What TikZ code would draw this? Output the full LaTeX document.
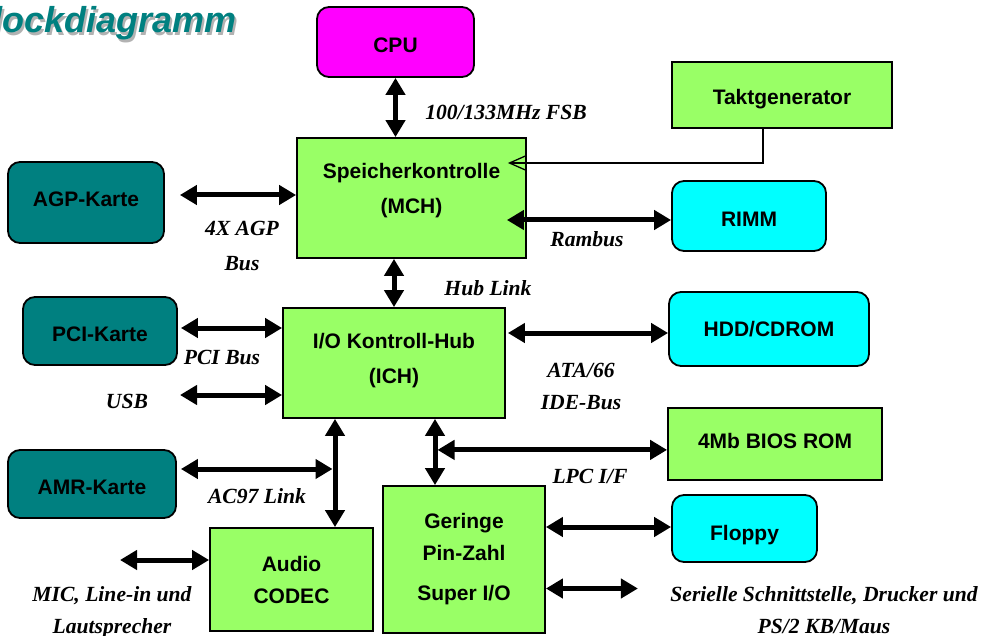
\documentclass[tikz,border=0pt]{standalone}
\usepackage{fontspec}
\setmainfont{Liberation Sans}
\newfontfamily\lblfont{Liberation Serif}
\usetikzlibrary{arrows.meta}
\definecolor{boxgreen}{HTML}{99FF66}
\definecolor{cpumag}{HTML}{FF00FF}
\definecolor{boxcyan}{HTML}{00FFFF}
\definecolor{boxteal}{HTML}{008080}
\begin{document}
\begin{tikzpicture}[x=1pt,y=-1pt,
  box/.style={draw=black, line width=1.8pt, inner sep=0pt, align=center,
    font=\fontsize{21}{32}\selectfont\bfseries},
  gbox/.style={box, fill=boxgreen},
  rbox/.style={box, rounded corners=12pt},
  cbox/.style={rbox, fill=boxcyan},
  tbox/.style={rbox, fill=boxteal},
  mbox/.style={rbox, fill=cpumag},
  tpos/.style={text depth=4pt, text height=#1},
  dbl/.style={line width=5pt, {Triangle[length=17pt,width=19pt]}-{Triangle[length=17pt,width=19pt]}},
  clk/.style={line width=1.3pt, -{Straight Barb[length=17pt,width=15pt,line width=1.3pt]}},
  lbl/.style={anchor=base, inner sep=0pt, font=\lblfont\fontsize{21.6}{21.6}\selectfont\bfseries\itshape},
  ttl/.style={anchor=base west, inner sep=0pt, font=\fontsize{36}{36}\selectfont\bfseries\itshape},
]
\useasboundingbox (0,0) rectangle (984,636);

% title (with its grey shadow)
\node[ttl, text=boxteal] (title) at (-34,33)
  {\rlap{\raisebox{-2.5pt}{\kern2.5pt\color{black!30}Blockdiagramm}}Blockdiagramm};

% boxes
\node[mbox, tpos=26pt, minimum width=157pt, minimum height=70pt] (cpu) at (395.5,42) {CPU};
\node[gbox, tpos=23pt, minimum width=220pt, minimum height=66pt] (takt) at (782,95) {Taktgenerator};
\node[gbox, minimum width=229pt, minimum height=120pt] (mch) at (411.5,198) {Speicherkontrolle\\[3pt](MCH)\\[-13pt]\mbox{}};
\node[tbox, tpos=12pt, minimum width=156pt, minimum height=81pt] (agp) at (86,202.5) {AGP-Karte};
\node[cbox, tpos=25pt, minimum width=154pt, minimum height=70pt] (rimm) at (749,216) {RIMM};
\node[tbox, tpos=25pt, minimum width=154pt, minimum height=68pt] (pci) at (100,331) {PCI-Karte};
\node[gbox, minimum width=222pt, minimum height=110pt] (ich) at (394,363) {I/O Kontroll-Hub\\[3pt](ICH)\\[-22pt]\mbox{}};
\node[cbox, tpos=19pt, minimum width=200pt, minimum height=74pt] (hdd) at (769,329) {HDD/CDROM};
\node[gbox, tpos=13pt, minimum width=214pt, minimum height=72pt] (bios) at (775,444) {4Mb BIOS ROM};
\node[tbox, tpos=25pt, minimum width=168pt, minimum height=68pt] (amr) at (92,484) {AMR-Karte};
\node[gbox, minimum width=163pt, minimum height=103pt] (audio) at (291.5,579.5) {Audio\\CODEC};
\node[gbox, minimum width=162pt, minimum height=147pt] (superio) at (464,559.5) {Geringe\\Pin-Zahl\\[8pt]Super I/O};
\node[cbox, tpos=28pt, minimum width=145pt, minimum height=67pt] (floppy) at (744.5,528.5) {Floppy};

% connectors
\draw[dbl] (cpu.south) -- (cpu.south |- mch.north);

\coordinate (clkA) at ([xshift=-19pt]takt.south);
\coordinate (clkB) at ([shift={(-19,-35)}]mch.east);
\draw[clk] (clkA) |- (clkB);

\coordinate (agpA) at ([shift={(15,-7.5)}]agp.east);
\draw[dbl] (agpA) -- (agpA -| mch.west);

\coordinate (ramA) at ([shift={(-20,22)}]mch.east);
\draw[dbl] (ramA) -- (ramA -| rimm.west);

\coordinate (hubA) at ([xshift=-17.5pt]mch.south);
\draw[dbl] (hubA) -- (hubA |- ich.north);

\coordinate (pciA) at ([shift={(3,-3)}]pci.east);
\draw[dbl] (pciA) -- (pciA -| ich.west);

\coordinate (usbA) at (180,395);
\draw[dbl] (usbA) -- (usbA -| ich.west);

\coordinate (hddA) at ([shift={(2,-30)}]ich.east);
\draw[dbl] (hddA) -- (hddA -| hdd.west);

\coordinate (acA) at ([xshift=-59pt]ich.south);
\draw[dbl] (acA) -- (acA |- audio.north);

\coordinate (amrA) at ([shift={(4,-15)}]amr.east);
\coordinate (amrB0) at (amrA -| acA);
\draw[dbl] (amrA) -- ([xshift=-2.5pt]amrB0);

\coordinate (lpcV) at ([xshift=41pt]ich.south);
\draw[dbl] (lpcV) -- (lpcV |- superio.north);

\coordinate (lpcA) at ([shift={(43.5,31)}]ich.south);
\draw[dbl] (lpcA) -- (lpcA -| bios.west);

\coordinate (flA) at ([shift={(0,-32.5)}]superio.east);
\draw[dbl] (flA) -- (flA -| floppy.west);

\coordinate (serA) at ([shift={(0,29)}]superio.east);
\coordinate (serB) at ([xshift=92pt]serA);
\draw[dbl] (serA) -- (serB);

\coordinate (micA) at (120,560);
\draw[dbl] (micA) -- (micA -| audio.west);

% labels
\node[lbl] (lfsb) at (506,120) {100/133MHz FSB};
\node[lbl] (lagp1) at (242,236) {4X AGP};
\node[lbl] (lagp2) at (242,270) {Bus};
\node[lbl] (lram) at (587,247) {Rambus};
\node[lbl] (lhub) at (488,295) {Hub Link};
\node[lbl] (lpci) at (222,364) {PCI Bus};
\node[lbl] (lusb) at (127,408) {USB};
\node[lbl] (lata1) at (581,377) {ATA/66};
\node[lbl] (lata2) at (581,409) {IDE-Bus};
\node[lbl] (llpc) at (590,483) {LPC I/F};
\node[lbl] (lac) at (257,503) {AC97 Link};
\node[lbl] (lmic1) at (112,601) {MIC, Line-in und};
\node[lbl] (lmic2) at (112,633) {Lautsprecher};
\node[lbl] (lser1) at (824,601) {Serielle Schnittstelle, Drucker und};
\node[lbl] (lser2) at (824,633) {PS/2 KB/Maus};
\end{tikzpicture}
\end{document}
